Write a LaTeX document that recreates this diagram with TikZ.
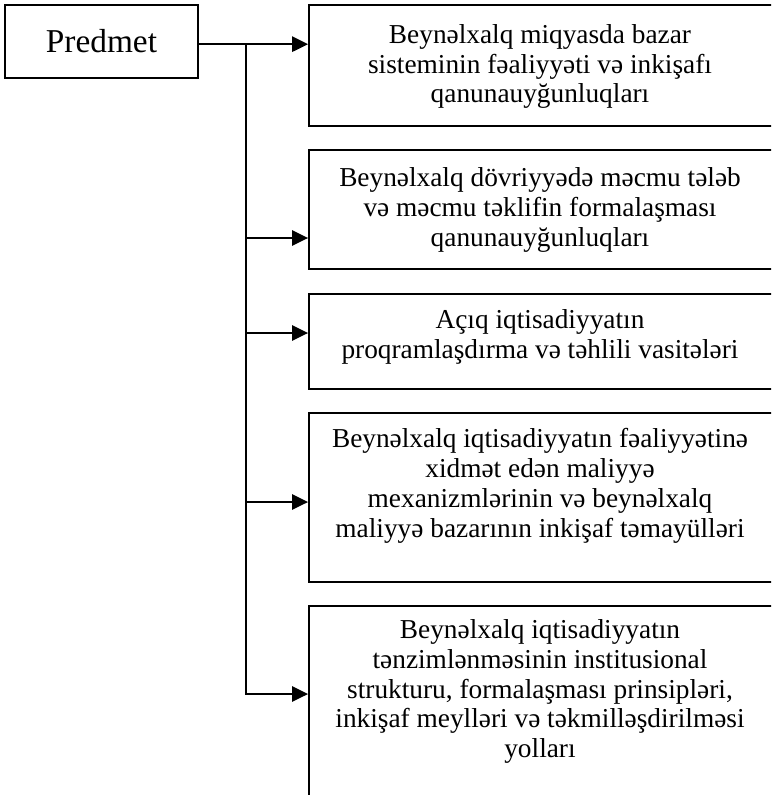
\documentclass[tikz,border=0pt]{standalone}
\usepackage{fontspec}
\setmainfont{Liberation Serif}
\usetikzlibrary{arrows.meta}
\begin{document}
\begin{tikzpicture}[x=0.75pt,y=-0.75pt,
  box/.style={draw, line width=1.4pt, rectangle, inner sep=0pt, minimum width=348pt},
  txt/.style={anchor=north, inner sep=0pt, align=center, font=\fontsize{20.5pt}{22.3pt}\selectfont},
  conn/.style={line width=1.4pt},
  arr/.style={conn, -{Triangle[length=12pt,width=11.5pt]}}]
\useasboundingbox (0,0) rectangle (771,795);
\clip (0,0) rectangle (771,795);
% left box
\node[draw, line width=1.4pt, rectangle, inner sep=0pt, minimum width=144.75pt, minimum height=54.75pt,
      font=\fontsize{25pt}{28pt}\selectfont] (pred) at (101.5,41.5) {Predmet};
% right boxes
\node[box, minimum height=90.75pt]  (b1) at (541,65.5) {};
\node[box, minimum height=89.25pt]  (b2) at (541,209.5) {};
\node[box, minimum height=71.25pt]  (b3) at (541,341.5) {};
\node[box, minimum height=126.75pt] (b4) at (541,497.5) {};
\node[box, minimum height=145.5pt]  (b5) at (541,703) {};
% texts
\node[txt] (t1) at (540,24.3) {Beynəlxalq miqyasda bazar\\ sisteminin fəaliyyəti və inkişafı\\ qanunauyğunluqları};
\node[txt] (t2) at (540,167.3) {Beynəlxalq dövriyyədə məcmu tələb\\ və məcmu təklifin formalaşması\\ qanunauyğunluqları};
\node[txt] (t3) at (540,309.3) {Açıq iqtisadiyyatın\\ proqramlaşdırma və təhlili vasitələri};
\node[txt] (t4) at (540,428.3) {Beynəlxalq iqtisadiyyatın fəaliyyətinə\\ xidmət edən maliyyə\\ mexanizmlərinin və beynəlxalq\\ maliyyə bazarının inkişaf təmayülləri};
\node[txt] (t5) at (540,619.3) {Beynəlxalq iqtisadiyyatın\\ tənzimlənməsinin institusional\\ strukturu, formalaşması prinsipləri,\\ inkişaf meylləri və təkmilləşdirilməsi\\ yolları};
% connectors
\coordinate (p0) at ([yshift=-2pt]pred.east);
\coordinate (j0) at (246,44);
\coordinate (j2) at (246,238);
\coordinate (j3) at (246,333);
\coordinate (j4) at (246,502);
\coordinate (j5) at (246,694);
\draw[arr] (p0) -- (p0 -| b1.west);
\draw[arr] (j0) -- (j5) -- (j5 -| b5.west);
\draw[arr] (j2) -- (j2 -| b2.west);
\draw[arr] (j3) -- (j3 -| b3.west);
\draw[arr] (j4) -- (j4 -| b4.west);
\end{tikzpicture}
\end{document}
